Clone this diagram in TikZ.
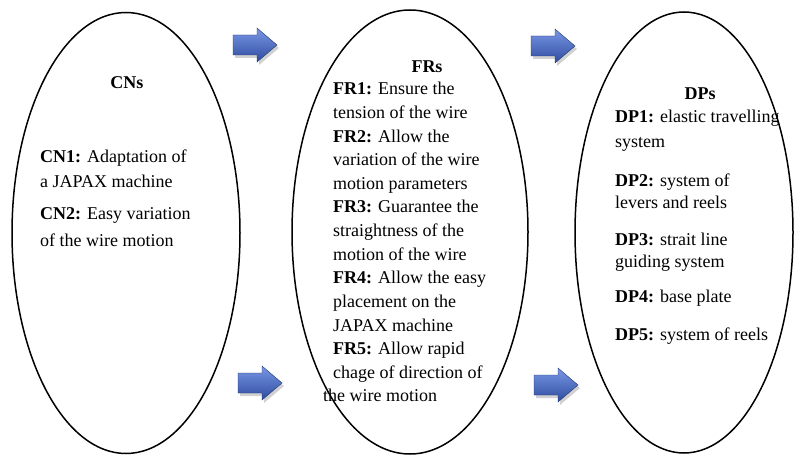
\documentclass[tikz,border=0pt]{standalone}
\usepackage{fontspec}
\setmainfont{Liberation Serif}
\usetikzlibrary{shapes.geometric}
\definecolor{arrtop}{HTML}{7A98E6}
\definecolor{arrbot}{HTML}{2E4B9E}
\begin{document}
\begin{tikzpicture}[x=1pt,y=-1pt,
  oval/.style={draw=black, line width=1.5pt, ellipse, inner sep=0pt},
  txt/.style={anchor=base west, inner sep=0pt, font=\fontsize{18}{22}\selectfont},
  head/.style={anchor=base, inner sep=0pt, font=\fontsize{18}{22}\selectfont\bfseries},
  blockarrow/.style={top color=arrtop, bottom color=arrbot, draw=arrbot!70!black, line width=0.4pt},
  arrshadow/.style={fill=black, opacity=0.18},
  barrow/.pic={
    \path[arrshadow] (-20,-7) -- (4,-7) -- (4,-14) -- (24,3) -- (4,20) -- (4,13) -- (-20,13) -- cycle;
    \path[blockarrow] (-22,-10) -- (2,-10) -- (2,-17) -- (22,0) -- (2,17) -- (2,10) -- (-22,10) -- cycle;
  }]
\useasboundingbox[fill=white] (0,0) rectangle (795,457);

% ellipses
\node[oval, minimum width=228pt, minimum height=441pt] (cn) at (126,233) {};
\node[oval, minimum width=236pt, minimum height=444pt] (fr) at (410,232) {};
\node[oval, minimum width=218pt, minimum height=441pt] (dp) at (684,232.5) {};

% arrows
\pic (a1) at (255,45) {barrow};
\pic (a2) at (553,46) {barrow};
\pic (a3) at (260,383) {barrow};
\pic (a4) at (556,385) {barrow};

% headers
\node[head] (cnh) at (127,89) {CNs};
\node[head] (frh) at (427,73) {FRs};
\node[head] (dph) at (700,100) {DPs};

% CNs
\node[txt] (cn1) at (40,163) {\textbf{CN1:} Adaptation of};
\node[txt] (cn2) at (40,188) {a JAPAX machine};
\node[txt] (cn3) at (40,220) {\textbf{CN2:} Easy variation};
\node[txt] (cn4) at (40,247) {of the wire motion};

% FRs
\node[txt] (fr1) at (333,95) {\textbf{FR1:} Ensure the};
\node[txt] (fr2) at (333,118.6) {tension of the wire};
\node[txt] (fr3) at (333,142.2) {\textbf{FR2:} Allow the};
\node[txt] (fr4) at (333,165.8) {variation of the wire};
\node[txt] (fr5) at (333,189.4) {motion parameters};
\node[txt] (fr6) at (333,213) {\textbf{FR3:} Guarantee the};
\node[txt] (fr7) at (333,236.6) {straightness of the};
\node[txt] (fr8) at (333,260.2) {motion of the wire};
\node[txt] (fr9) at (333,283.8) {\textbf{FR4:} Allow the easy};
\node[txt] (fr10) at (333,307.4) {placement on the};
\node[txt] (fr11) at (333,331) {JAPAX machine};
\node[txt] (fr12) at (333,354.6) {\textbf{FR5:} Allow rapid};
\node[txt] (fr13) at (333,378.2) {chage of direction of};
\node[txt] (fr14) at (323,401.8) {the wire motion};

% DPs
\node[txt] (dp1) at (615,123) {\textbf{DP1:} elastic travelling};
\node[txt] (dp2) at (615,148) {system};
\node[txt] (dp3) at (615,187) {\textbf{DP2:} system of};
\node[txt] (dp4) at (615,208) {levers and reels};
\node[txt] (dp5) at (615,245) {\textbf{DP3:} strait line};
\node[txt] (dp6) at (615,267) {guiding system};
\node[txt] (dp7) at (615,302) {\textbf{DP4:} base plate};
\node[txt] (dp8) at (615,340) {\textbf{DP5:} system of reels};
\end{tikzpicture}
\end{document}
